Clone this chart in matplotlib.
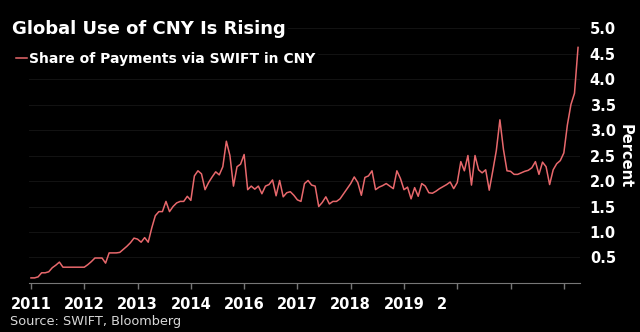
import matplotlib
matplotlib.use("Agg")
import matplotlib.pyplot as plt

# monthly share of SWIFT payments in CNY (%), Jan 2011 onward
share = [
    0.10, 0.10, 0.12, 0.20, 0.20, 0.22, 0.30, 0.35, 0.41, 0.31,
    0.31, 0.31, 0.31, 0.31, 0.31, 0.31, 0.36, 0.42, 0.49, 0.49,
    0.49, 0.39, 0.59, 0.59, 0.59, 0.60, 0.66, 0.72, 0.79, 0.88,
    0.86, 0.80, 0.89, 0.80, 1.08, 1.32, 1.40, 1.40, 1.60, 1.40,
    1.50, 1.57, 1.60, 1.60, 1.70, 1.62, 2.10, 2.20, 2.14, 1.83,
    1.97, 2.08, 2.18, 2.12, 2.28, 2.78, 2.50, 1.90, 2.28, 2.33,
    2.52, 1.83, 1.90, 1.84, 1.90, 1.75, 1.90, 1.93, 2.02, 1.71,
    2.01, 1.69, 1.77, 1.79, 1.72, 1.63, 1.60, 1.95, 2.01, 1.92,
    1.90, 1.50, 1.58, 1.69, 1.55, 1.60, 1.60, 1.65, 1.75, 1.85,
    1.95, 2.08, 1.97, 1.72, 2.07, 2.10, 2.20, 1.83, 1.88, 1.91,
    1.95, 1.90, 1.85, 2.20, 2.05, 1.83, 1.88, 1.65, 1.87, 1.70,
    1.95, 1.90, 1.77, 1.76, 1.80, 1.85, 1.89, 1.93, 1.98, 1.85,
    1.97, 2.38, 2.20, 2.50, 1.92, 2.50, 2.22, 2.16, 2.22, 1.82,
    2.20, 2.60, 3.20, 2.62, 2.20, 2.19, 2.13, 2.13, 2.16, 2.19,
    2.21, 2.26, 2.38, 2.13, 2.37, 2.28, 1.93, 2.22, 2.34, 2.40,
    2.55, 3.10, 3.50, 3.72, 4.62,
]
months = list(range(len(share)))

tick_pos = list(range(0, 151, 15))
tick_labels = ["2011", "2012", "2013", "2014", "2016", "2017", "2018",
               "2019", "2\u2007\u2007\u2007", "", ""]
y_ticks = [0.5, 1.0, 1.5, 2.0, 2.5, 3.0, 3.5, 4.0, 4.5, 5.0]

line_color = "#e8686c"

fig = plt.figure(figsize=(6.4, 3.32), dpi=100, facecolor="black")
ax = fig.add_axes([0.0453, 0.1476, 0.861, 0.768], facecolor="black")

ax.plot(months, share, color=line_color, lw=1.1, label="Share of Payments via SWIFT in CNY")

ax.set_xlim(-0.56, 154.56)
ax.set_ylim(0, 5.0)

ax.set_xticks(tick_pos)
ax.set_xticklabels(tick_labels)
ax.set_yticks(y_ticks)
ax.set_yticklabels([f"{v:.1f}" for v in y_ticks])

ax.yaxis.tick_right()
ax.tick_params(axis="y", length=0, pad=7, colors="white", labelsize=10.5)
ax.tick_params(axis="x", length=4, width=1, color="#777777", pad=6,
               labelcolor="white", labelsize=10.5)
for lab in ax.get_xticklabels() + ax.get_yticklabels():
    lab.set_fontweight("bold")

for side in ["top", "left", "right"]:
    ax.spines[side].set_visible(False)
ax.spines["bottom"].set_color("#777777")

ax.grid(axis="y", color="#121212", lw=0.8)
ax.set_axisbelow(True)

fig.text(0.977, 0.53, "Percent", rotation=270, color="white",
         fontsize=10.5, fontweight="bold", ha="center", va="center")

fig.text(12 / 640, 1 - 29 / 332, "Global Use of CNY Is Rising", color="white",
         fontsize=13, fontweight="bold", ha="left", va="center",
         bbox=dict(facecolor="black", edgecolor="none", pad=2))

leg = fig.legend(loc="center left", bbox_to_anchor=(15 / 640, 1 - 59 / 332),
                 frameon=True, facecolor="black", edgecolor="black", framealpha=1,
                 handlelength=0.75, handletextpad=0.15, borderpad=0.1,
                 borderaxespad=0, prop={"weight": "bold", "size": 10})
for t in leg.get_texts():
    t.set_color("white")

fig.text(10 / 640, 1 - 321 / 332, "Source: SWIFT, Bloomberg", color="#d8d8d8",
         fontsize=9.3, ha="left", va="center")

fig.savefig("out.png", dpi=100, facecolor="black")
